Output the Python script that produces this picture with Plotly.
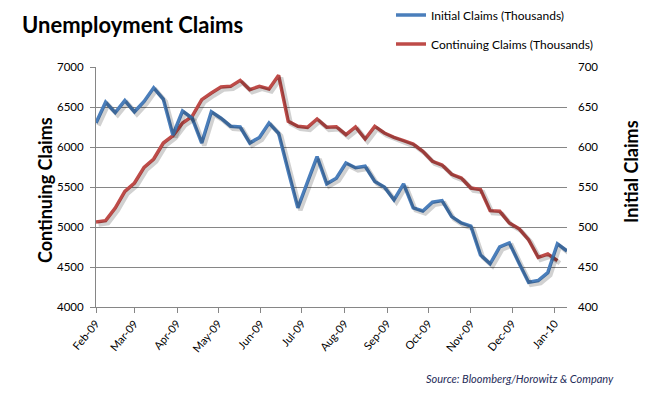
import plotly.graph_objects as go
import pandas as pd

# ---------------- data ----------------
week_ending = pd.date_range("2009-02-07", periods=50, freq="7D")

initial_claims = [630, 656, 643, 658, 644, 657, 674, 660, 615, 645,
                  636, 605, 644, 636, 626, 625, 605, 612, 630, 617,
                  570, 524, 556, 588, 554, 561, 580, 574, 576, 557,
                  550, 534, 554, 524, 520, 531, 533, 513, 505, 501,
                  465, 454, 475, 480, 455, 431, 433, 443, 479, 470]

continuing_claims = [5062, 5079, 5237, 5446, 5550, 5746, 5850, 6050, 6142, 6300,
                     6383, 6592, 6675, 6750, 6758, 6833, 6717, 6758, 6725, 6896,
                     6321, 6258, 6246, 6350, 6246, 6254, 6154, 6250, 6100, 6258,
                     6175, 6121, 6079, 6037, 5946, 5821, 5775, 5658, 5612, 5487,
                     5467, 5204, 5196, 5050, 4979, 4842, 4621, 4662, 4579]

tick_dates = pd.date_range("2009-02-07", periods=12, freq=pd.DateOffset(months=1))
tick_labels = ["Feb-09", "Mar-09", "Apr-09", "May-09", "Jun-09", "Jul-09",
               "Aug-09", "Sep-09", "Oct-09", "Nov-09", "Dec-09", "Jan-10"]

left_range = [4000, 7000]
right_range = [400, 700]

# ---------------- layout geometry ----------------
# the page body adds an 8px offset, so the figure is 8px smaller
OFF = 8
W, H = 648 - OFF, 395 - OFF
ML, MR, MT, MB = 96 - OFF, 81, 67 - OFF, 88
PW, PH = W - ML - MR, H - MT - MB

x0, x1 = week_ending[0], week_ending[-1]
span_days = (x1 - x0).days
px_per_day = PW / span_days
shadow_dx, shadow_dy = 2.5, 2.5
sx = pd.Timedelta(days=shadow_dx / px_per_day)
left_shift = shadow_dy * (left_range[1] - left_range[0]) / PH
right_shift = shadow_dy * (right_range[1] - right_range[0]) / PH

def px_x(p):
    return (p - OFF - ML) / PW

def px_y(p):
    return (MT + PH - (p - OFF)) / PH

BLUE = "#4A7EBB"
RED = "#BE4B48"
GRID = "#868686"
FONT = "Lato, 'Open Sans', sans-serif"

fig = go.Figure()

# shadows
fig.add_trace(go.Scatter(x=week_ending[:len(continuing_claims)], y=continuing_claims,
                         mode="lines", line=dict(color="rgba(0,0,0,0.18)", width=4.5),
                         xaxis="x2", yaxis="y3", showlegend=False, hoverinfo="skip"))
fig.add_trace(go.Scatter(x=week_ending, y=initial_claims,
                         mode="lines", line=dict(color="rgba(0,0,0,0.18)", width=4.5),
                         xaxis="x2", yaxis="y4", showlegend=False, hoverinfo="skip"))

# main lines
fig.add_trace(go.Scatter(x=week_ending[:len(continuing_claims)], y=continuing_claims,
                         mode="lines", name="Continuing Claims (Thousands)",
                         line=dict(color=RED, width=3.5), xaxis="x", yaxis="y",
                         legend="legend2"))
fig.add_trace(go.Scatter(x=week_ending, y=initial_claims,
                         mode="lines", name="Initial Claims (Thousands)",
                         line=dict(color=BLUE, width=3.5), xaxis="x", yaxis="y2",
                         legend="legend"))

tickfont = dict(family=FONT, size=11.5, color="#000000")

fig.update_layout(
    width=W, height=H,
    margin=dict(l=ML, r=MR, t=MT, b=MB, pad=0, autoexpand=False),
    paper_bgcolor="white", plot_bgcolor="white",
    font=dict(family=FONT, color="#000000"),
    xaxis=dict(type="date", range=[x0, x1], tickvals=list(tick_dates), ticktext=tick_labels,
               tickangle=-50, tickfont=dict(family=FONT, size=11, color="#000000"),
               showgrid=False, showline=True, linecolor=GRID, linewidth=1,
               ticks="outside", ticklen=5, tickcolor=GRID, zeroline=False,
               automargin=False),
    xaxis2=dict(type="date", range=[x0 - sx, x1 - sx], overlaying="x", visible=False),
    yaxis=dict(range=left_range, dtick=500, tickformat="d", tickfont=tickfont,
               showgrid=True, gridcolor=GRID, gridwidth=1,
               showline=True, linecolor=GRID, linewidth=1,
               ticks="outside", ticklen=5, tickcolor=GRID, zeroline=False,
               ticklabelstandoff=4, automargin=False),
    yaxis2=dict(range=right_range, dtick=50, tickformat="d", tickfont=tickfont,
                overlaying="y", side="right", showgrid=False, showline=False,
                ticks="", zeroline=False, ticklabelstandoff=10, automargin=False),
    yaxis3=dict(range=[left_range[0] + left_shift, left_range[1] + left_shift],
                overlaying="y", visible=False),
    yaxis4=dict(range=[right_range[0] + right_shift, right_range[1] + right_shift],
                overlaying="y", visible=False),
    legend=dict(x=px_x(391), y=px_y(15), xanchor="left", yanchor="middle",
                bgcolor="rgba(0,0,0,0)", font=dict(family=FONT, size=12, color="#000000"),
                itemwidth=30),
    legend2=dict(x=px_x(391), y=px_y(44), xanchor="left", yanchor="middle",
                 bgcolor="rgba(0,0,0,0)", font=dict(family=FONT, size=12, color="#000000"),
                 itemwidth=30),
    annotations=[
        dict(text="<b>Unemployment Claims</b>", x=px_x(20), y=px_y(25),
             xref="paper", yref="paper", xanchor="left", yanchor="middle",
             showarrow=False, font=dict(family=FONT, size=22, color="#000000")),
        dict(text="<b>Continuing Claims</b>", x=px_x(45), y=px_y(190),
             xref="paper", yref="paper", xanchor="center", yanchor="middle",
             textangle=-90, showarrow=False,
             font=dict(family=FONT, size=18, color="#000000")),
        dict(text="<b>Initial Claims</b>", x=px_x(631), y=px_y(172),
             xref="paper", yref="paper", xanchor="center", yanchor="middle",
             textangle=-90, showarrow=False,
             font=dict(family=FONT, size=18, color="#000000")),
        dict(text="<i>Source: Bloomberg/Horowitz &amp; Company</i>", x=px_x(616), y=px_y(378),
             xref="paper", yref="paper", xanchor="right", yanchor="middle",
             showarrow=False, font=dict(family=FONT, size=11, color="#1F2D5A")),
    ],
)

fig.write_html("out.html")
